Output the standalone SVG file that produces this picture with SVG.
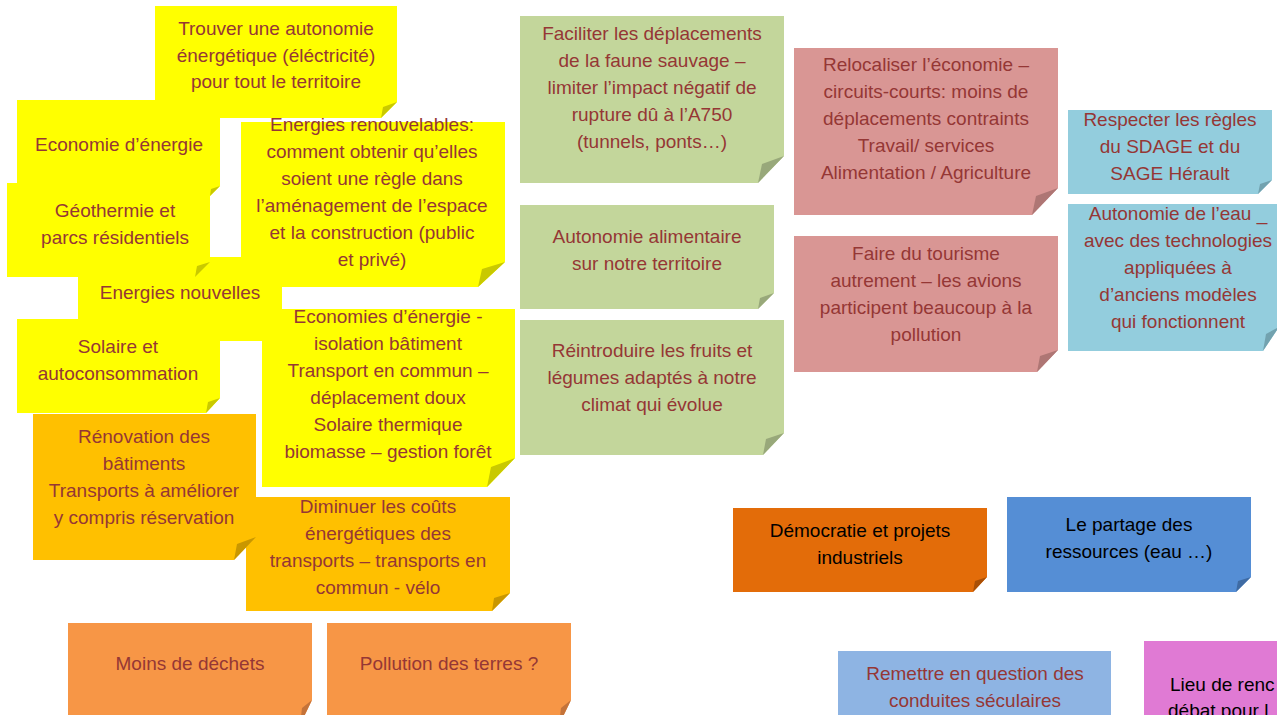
<svg xmlns="http://www.w3.org/2000/svg" width="1277" height="715" viewBox="0 0 1277 715">
<style>
text{font-family:"Liberation Sans",Arial,sans-serif;font-size:19px;fill:#953735;text-anchor:middle}
.blk{fill:#000}
.y{fill:#FFFF00}.yf{fill:#C9C900}
.a{fill:#FFC000}.af{fill:#C99700}
.o{fill:#F79646}.of{fill:#C4733A}
.do{fill:#E36C09}.dof{fill:#A94F06}
.b{fill:#558ED5}.bf{fill:#3F6BA3}
.lb{fill:#8EB4E3}.lbf{fill:#6E8DB3}
.p{fill:#E07AD4}
.g{fill:#C3D69B}.gf{fill:#98A87A}
.r{fill:#D99694}.rf{fill:#AE7674}
.c{fill:#93CDDD}.cf{fill:#72A2AF}
</style>
<rect width="1277" height="715" fill="#fff"/>
<g id="connectors"/>

<g id="n-trouver">
<polygon class="y" points="155,6 397,6 397,102 381,118 155,118"/>
<polygon class="yf" points="397,102 381,118 383,107"/>
<text x="276" y="35">Trouver une autonomie</text>
<text x="276" y="62">énergétique (éléctricité)</text>
<text x="276" y="88">pour tout le territoire</text>
</g>

<g id="n-economie">
<polygon class="y" points="17,100 220,100 220,186 210,196 17,196"/>
<polygon class="yf" points="220,186 210,196 211,189"/>
<text x="119" y="151">Economie d’énergie</text>
</g>

<g id="n-energies-nouvelles">
<polygon class="y" points="78,257 282,257 282,341 78,341"/>
<text x="180" y="299">Energies nouvelles</text>
</g>

<g id="n-geothermie">
<polygon class="y" points="7,183 210,183 210,262 195,277 7,277"/>
<polygon class="yf" points="210,262 195,277 197,266"/>
<text x="115" y="217">Géothermie et</text>
<text x="115" y="244">parcs résidentiels</text>
</g>

<g id="n-renouvelables">
<polygon class="y" points="241,122 505,122 505,262 478,287 241,287"/>
<polygon class="yf" points="505,262 478,287 482,269"/>
<text x="372" y="131">Energies renouvelables:</text>
<text x="372" y="158">comment obtenir qu’elles</text>
<text x="372" y="185">soient une règle dans</text>
<text x="372" y="212">l’aménagement de l’espace</text>
<text x="372" y="239">et la construction (public</text>
<text x="372" y="266">et privé)</text>
</g>

<g id="n-solaire">
<polygon class="y" points="17,319 220,319 220,398 206,413 17,413"/>
<polygon class="yf" points="220,398 206,413 208,402"/>
<text x="118" y="353">Solaire et</text>
<text x="118" y="380">autoconsommation</text>
</g>

<g id="n-economies">
<polygon class="y" points="262,309 515,309 515,458 487,487 262,487"/>
<polygon class="yf" points="515,458 487,487 491,467"/>
<text x="388" y="323">Economies d’énergie  -</text>
<text x="388" y="350">isolation bâtiment</text>
<text x="388" y="377">Transport en commun –</text>
<text x="388" y="404">déplacement doux</text>
<text x="388" y="431">Solaire thermique</text>
<text x="388" y="458">biomasse – gestion forêt</text>
</g>

<g id="n-diminuer">
<polygon class="a" points="246,497 510,497 510,593 492,611 246,611"/>
<polygon class="af" points="510,593 492,611 494,598"/>
<text x="378" y="513">Diminuer les coûts</text>
<text x="378" y="540">énergétiques des</text>
<text x="378" y="567">transports – transports en</text>
<text x="378" y="594">commun - vélo</text>
</g>

<g id="n-renovation">
<polygon class="a" points="33,414 256,414 256,537 234,560 33,560"/>
<polygon class="af" points="256,537 234,560 237,544"/>
<text x="144" y="443">Rénovation des</text>
<text x="144" y="470">bâtiments</text>
<text x="144" y="497">Transports à améliorer</text>
<text x="144" y="524">y compris réservation</text>
</g>

<g id="n-dechets">
<polygon class="o" points="68,623 312,623 312,700 300,725 68,725"/>
<polygon class="of" points="312,700 300,725 302,708"/>
<text x="190" y="670">Moins de déchets</text>
</g>

<g id="n-pollution">
<polygon class="o" points="327,623 571,623 571,700 559,725 327,725"/>
<polygon class="of" points="571,700 559,725 561,708"/>
<text x="449" y="670">Pollution des terres ?</text>
</g>

<g id="n-faciliter">
<polygon class="g" points="520,16 784,16 784,156 758,183 520,183"/>
<polygon class="gf" points="784,156 758,183 762,164"/>
<text x="652" y="40">Faciliter les déplacements</text>
<text x="652" y="67">de la faune sauvage –</text>
<text x="652" y="94">limiter l’impact négatif de</text>
<text x="652" y="121">rupture dû à l’A750</text>
<text x="652" y="148">(tunnels, ponts…)</text>
</g>

<g id="n-alimentaire">
<polygon class="g" points="520,205 774,205 774,293 758,309 520,309"/>
<polygon class="gf" points="774,293 758,309 760,298"/>
<text x="647" y="243">Autonomie alimentaire</text>
<text x="647" y="270">sur notre territoire</text>
</g>

<g id="n-reintroduire">
<polygon class="g" points="520,320 784,320 784,433 763,455 520,455"/>
<polygon class="gf" points="784,433 763,455 766,439"/>
<text x="652" y="357">Réintroduire les fruits et</text>
<text x="652" y="384">légumes adaptés à notre</text>
<text x="652" y="411">climat qui évolue</text>
</g>

<g id="n-relocaliser">
<polygon class="r" points="794,48 1058,48 1058,188 1032,215 794,215"/>
<polygon class="rf" points="1058,188 1032,215 1036,196"/>
<text x="926" y="71">Relocaliser l’économie –</text>
<text x="926" y="98">circuits-courts: moins de</text>
<text x="926" y="125">déplacements contraints</text>
<text x="926" y="152">Travail/ services</text>
<text x="926" y="179">Alimentation / Agriculture</text>
</g>

<g id="n-tourisme">
<polygon class="r" points="794,236 1058,236 1058,350 1037,372 794,372"/>
<polygon class="rf" points="1058,350 1037,372 1040,356"/>
<text x="926" y="260">Faire du tourisme</text>
<text x="926" y="287">autrement – les avions</text>
<text x="926" y="314">participent beaucoup à la</text>
<text x="926" y="341">pollution</text>
</g>

<g id="n-sdage">
<polygon class="c" points="1068,110 1272,110 1272,180 1258,194 1068,194"/>
<polygon class="cf" points="1272,180 1258,194 1260,184"/>
<text x="1170" y="126">Respecter les règles</text>
<text x="1170" y="153">du SDAGE et du</text>
<text x="1170" y="180">SAGE Hérault</text>
</g>

<g id="n-eau">
<polygon class="c" points="1068,204 1279,204 1279,327 1263,351 1068,351"/>
<polygon class="cf" points="1279,327 1263,351 1266,334"/>
<text x="1178" y="220">Autonomie de l’eau _</text>
<text x="1178" y="247">avec des technologies</text>
<text x="1178" y="274">appliquées à</text>
<text x="1178" y="301">d’anciens modèles</text>
<text x="1178" y="328">qui fonctionnent</text>
</g>

<g id="n-democratie">
<polygon class="do" points="733,508 987,508 987,577 973,592 733,592"/>
<polygon class="dof" points="987,577 973,592 975,581"/>
<text class="blk" x="860" y="537">Démocratie et projets</text>
<text class="blk" x="860" y="564">industriels</text>
</g>

<g id="n-partage">
<polygon class="b" points="1007,497 1251,497 1251,577 1236,592 1007,592"/>
<polygon class="bf" points="1251,577 1236,592 1238,581"/>
<text class="blk" x="1129" y="531">Le partage des</text>
<text class="blk" x="1129" y="558">ressources (eau …)</text>
</g>

<g id="n-remettre">
<polygon class="lb" points="838,651 1111,651 1111,725 838,725"/>
<text x="975" y="680">Remettre en question des</text>
<text x="975" y="707">conduites séculaires</text>
</g>

<g id="n-lieu">
<polygon class="p" points="1144,641 1280,641 1280,725 1144,725"/>
<text class="blk" x="1170" y="691" style="text-anchor:start">Lieu de renc</text>
<text class="blk" x="1168" y="717" style="text-anchor:start">débat pour l</text>
</g>
</svg>
